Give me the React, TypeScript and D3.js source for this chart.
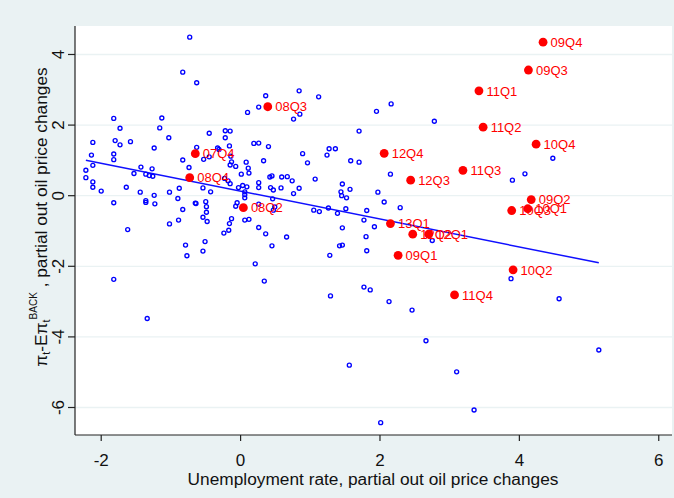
import React from 'react';
import * as d3 from 'd3';

// ticks
const xTicks = [-2, 0, 2, 4, 6];
const yTicks = [-6, -4, -2, 0, 2, 4];

// all other quarters (hollow blue)
const blueX = [
  -1.82, -1.13, -1.73, -1.16, -1.03, -2.12, -1.80, -1.73, -1.58, -1.24,
  -0.63, -2.14, -1.82, -1.82, -0.83, -2.12, -1.43, -1.27, -0.74, -2.22,
  -1.53, -1.36, -1.31, -1.26, -2.22, -2.12, -2.12, -2.00, -1.64, -1.44,
  -1.24, -1.02, -0.88, -1.82, -1.36, -1.36, -1.23, -0.90, -0.65, -0.83,
  -0.89, -1.02, -1.62, -0.79, -0.77, 0.10, 0.26, 0.36, 0.76, 0.85,
  -0.22, -0.15, -0.45, -0.22, 0.19, 0.26, 0.40, -0.16, -0.33, -0.31,
  -0.53, -0.45, -0.14, -0.13, -0.15, -0.07, 0.08, 0.33, 0.89, 0.96,
  0.11, 0.12, 0.01, 0.42, 0.45, 0.59, 0.67, 0.74, 1.07, -0.23,
  -0.18, -0.15, 0.26, 0.26, 0.43, 0.47, 0.58, 0.84, 0.76, -0.54,
  -0.43, -0.03, 0.03, 0.09, 0.06, 0.06, 0.06, 0.46, -0.64, -0.50,
  -0.49, -0.05, -0.07, 0.49, 0.47, -0.49, -0.54, -0.48, -0.13, 0.06,
  0.12, -0.16, 0.26, -0.17, -0.24, 0.36, 0.66, 1.05, 1.13, -0.51,
  -0.54, 0.45, 0.21, -0.73, -0.83, -0.63, 0.84, 1.12, 1.95, 2.16,
  2.78, 1.70, 1.24, 1.27, 1.36, 1.58, 1.70, 2.15, 1.46, 1.57,
  1.44, 1.45, 1.52, 1.97, 2.06, 2.29, 0.26, 1.26, 1.39, 1.51,
  1.81, 1.77, 1.46, 1.92, 1.80, 1.42, 1.46, 1.81, 1.28, 0.34,
  1.29, 1.77, 1.86, 2.13, 2.46, 2.75, -1.82, -1.34, 1.56, 2.66,
  3.10, 3.35, 2.01, 5.14, 3.88, 4.57, 3.90, 4.48, 4.08,
];
const blueY = [
  2.19, 2.20, 1.91, 1.92, 1.64, 1.51, 1.56, 1.44, 1.53, 1.35,
  1.37, 1.15, 1.18, 1.02, 1.01, 0.86, 0.81, 0.76, 0.80, 0.72,
  0.63, 0.61, 0.57, 0.55, 0.51, 0.39, 0.24, 0.13, 0.24, 0.10,
  0.01, 0.10, 0.21, -0.20, -0.14, -0.19, -0.23, -0.08, -0.21, -0.39,
  -0.69, -0.80, -0.96, -1.40, -1.70, 2.36, 2.51, 2.83, 2.17, 2.31,
  1.84, 1.83, 1.77, 1.64, 1.48, 1.49, 1.39, 1.41, 1.35, 1.31,
  1.03, 1.10, 1.12, 0.96, 0.87, 0.83, 0.95, 0.99, 1.19, 0.93,
  0.78, 0.64, 0.61, 0.53, 0.56, 0.53, 0.54, 0.42, 0.47, 0.49,
  0.42, 0.34, 0.37, 0.23, 0.23, 0.16, 0.22, 0.21, 0.06, 0.22,
  0.11, 0.23, 0.29, 0.25, 0.11, 0.03, -0.06, -0.09, -0.22, -0.17,
  -0.31, -0.20, -0.30, -0.32, -0.41, -0.47, -0.61, -0.73, -0.65, -0.69,
  -0.67, -0.79, -0.90, -0.98, -1.06, -1.08, -1.17, -0.41, -0.45, -1.30,
  -1.57, -1.42, -1.93, 4.49, 3.50, 3.20, 2.97, 2.80, 2.39, 2.60,
  2.11, 1.83, 1.15, 1.33, 1.33, 0.99, 0.95, 0.61, 0.33, 0.18,
  0.11, 0.00, -0.06, 0.10, -0.18, -0.34, -0.24, -0.35, -0.50, -0.37,
  -0.42, -0.69, -0.91, -0.88, -1.16, -1.42, -1.40, -1.56, -1.69, -2.42,
  -2.84, -2.59, -2.67, -3.00, -3.24, -1.27, -2.37, -3.48, -4.80, -4.11,
  -4.99, -6.07, -6.43, -4.37, -2.35, -2.92, 0.44, 1.06, 0.62,
];

// highlighted quarters (filled red, labelled)
const redLabels = [
  '07Q4', '08Q2', '08Q3', '08Q4', '09Q1', '09Q2', '09Q3', '09Q4', '10Q1', '10Q2', '10Q3',
  '10Q4', '11Q1', '11Q2', '11Q3', '11Q4', '12Q1', '12Q2', '12Q3', '12Q4', '13Q1',
];
const redX = [
  -0.65, 0.04, 0.39, -0.73, 2.26, 4.17, 4.13, 4.34, 4.12, 3.91, 3.89,
  4.24, 3.42, 3.48, 3.19, 3.07, 2.70, 2.47, 2.44, 2.06, 2.15,
];
const redY = [
  1.19, -0.34, 2.52, 0.51, -1.69, -0.11, 3.56, 4.35, -0.37, -2.10, -0.42,
  1.46, 2.97, 1.94, 0.72, -2.81, -1.09, -1.09, 0.44, 1.20, -0.79,
];

// OLS fit
const fitIntercept = 0.129;
const fitSlope = -0.395;

const W = 674;
const H = 498;
const FONT = '"Liberation Sans", Arial, Helvetica, sans-serif';

const App = () => {
  const left = 75, right = 672, top = 26, bottom = 435;

  const x = d3.scaleLinear().domain([-2.376, 6.19]).range([left, right]);
  const y = d3.scaleLinear().domain([-6.779, 4.807]).range([bottom, top]);

  const allX = blueX.concat(redX);
  const [x0, x1] = d3.extent(allX) as [number, number];
  const fitLine = d3.line<number>()
    .x(d => x(d))
    .y(d => y(fitIntercept + fitSlope * d));

  const yMid = 217;

  return (
    <div style={{position: 'absolute', left: 0, top: 0}}>
      <svg width={W} height={H} style={{display: 'block'}} fontFamily={FONT}>
        <rect x={0} y={0} width={W} height={H} fill="#eaf2f3" />
        <rect x={left} y={top} width={right - left} height={bottom - top} fill="#ffffff" />

        {yTicks.map(t => (
          <line key={'g' + t} x1={left} x2={right} y1={y(t)} y2={y(t)} stroke="#eaf2f3" strokeWidth={1.3} />
        ))}

        {/* axes */}
        <line x1={left} x2={left} y1={top} y2={bottom} stroke="#222" strokeWidth={1.2} />
        <line x1={left} x2={right} y1={bottom} y2={bottom} stroke="#222" strokeWidth={1.2} />

        {yTicks.map(t => (
          <g key={'y' + t}>
            <line x1={left - 7} x2={left} y1={y(t)} y2={y(t)} stroke="#222" strokeWidth={1.2} />
            <text transform={`translate(64,${y(t)}) rotate(-90)`} textAnchor="middle" fontSize={17} fill="#111">
              {t}
            </text>
          </g>
        ))}
        {xTicks.map(t => (
          <g key={'x' + t}>
            <line x1={x(t)} x2={x(t)} y1={bottom} y2={bottom + 6} stroke="#222" strokeWidth={1.2} />
            <text x={x(t)} y={466} textAnchor="middle" fontSize={17} fill="#111">
              {t}
            </text>
          </g>
        ))}

        <text x={373} y={485} textAnchor="middle" fontSize={17.3} fill="#111">
          Unemployment rate, partial out oil price changes
        </text>

        <text transform={`translate(47,${yMid}) rotate(-90)`} textAnchor="middle" fontSize={17.3} fill="#111">
          <tspan>π</tspan>
          <tspan fontSize={11} dy={3}>t</tspan>
          <tspan dy={-3}>-Eπ</tspan>
          <tspan fontSize={11} dy={3}>t</tspan>
          <tspan fontSize={10} dy={-13}>BACK</tspan>
          <tspan dy={10}> , partial out oil price changes</tspan>
        </text>

        <path d={fitLine([x0, x1]) as string} fill="none" stroke="#1010ff" strokeWidth={1.5} />

        {blueX.map((v, i) => (
          <circle key={'b' + i} cx={x(v)} cy={y(blueY[i])} r={2} fill="none" stroke="#0000ff" strokeWidth={1.35} />
        ))}

        {redX.map((v, i) => (
          <g key={'r' + i}>
            <circle cx={x(v)} cy={y(redY[i])} r={4.4} fill="#ff0000" />
            <text x={x(v) + 7.5} y={y(redY[i])} dy="0.36em" fontSize={13} fill="#ff0000">
              {redLabels[i]}
            </text>
          </g>
        ))}
      </svg>
    </div>
  );
};

export default App;
